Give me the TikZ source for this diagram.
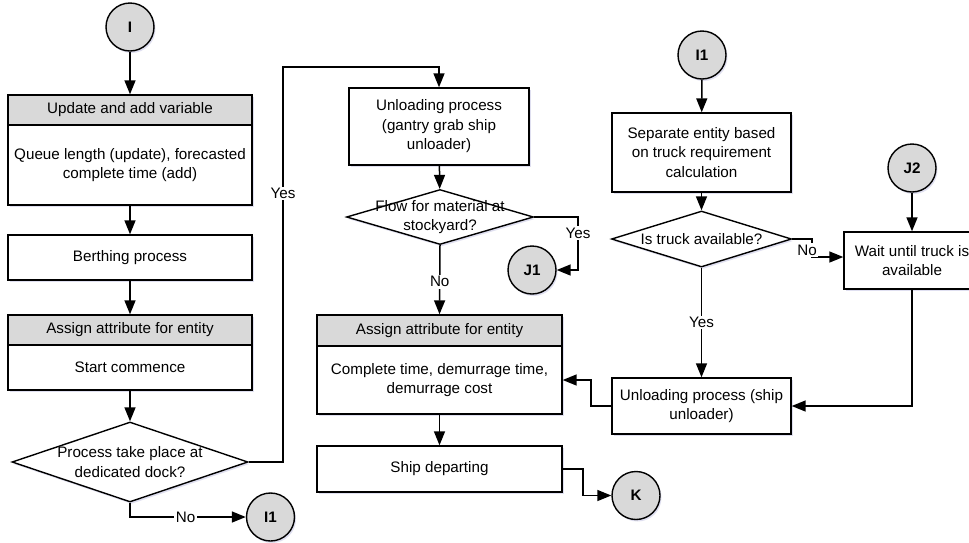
\documentclass[tikz,border=0pt]{standalone}
\usepackage{fontspec}
\setmainfont{Liberation Sans}
\usetikzlibrary{shapes.geometric,arrows.meta,shadows}

\begin{document}
\begin{tikzpicture}[x=1pt,y=-1pt,
  every node/.style={font=\fontsize{15.2}{19.5}\selectfont},
  base/.style={draw, line width=1.4pt, inner sep=0pt,
    drop shadow={shadow xshift=1.5pt, shadow yshift=-2pt, fill=blue!35!gray, opacity=0.18}},
  procbox/.style={base, rectangle, fill=white, align=center},
  headbox/.style={base, rectangle, fill=gray!30, align=center},
  decision/.style={base, diamond, fill=white},
  connector/.style={base, circle, fill=gray!30, minimum size=48pt,
    font=\fontsize{15.2}{19.5}\selectfont\bfseries},
  dtext/.style={align=center, inner sep=0pt},
  arr/.style={line width=1.5pt, -{Triangle[length=14pt,width=11pt]}},
  lbl/.style={fill=white, inner sep=1.5pt}]

\clip (0,0) rectangle (969,542);
\fill[white] (0,0) rectangle (969,542);

% ---------------- left column ----------------
\node[connector] (cI) at (130,27) {I};
\node[headbox, minimum width=244pt, minimum height=30pt] (updH) at (130,110) {Update and add variable};
\node[procbox, minimum width=244pt, minimum height=80pt] (updB) at (130,165)
  {Queue length (update), forecasted\\complete time (add)};
\node[procbox, minimum width=244pt, minimum height=45pt] (berth) at (130,257.5) {Berthing process};
\node[headbox, minimum width=244pt, minimum height=30pt] (asg1H) at (130,330) {Assign attribute for entity};
\node[procbox, minimum width=244pt, minimum height=45pt] (asg1B) at (130,367.5) {Start commence};
\node[decision, minimum width=236pt, minimum height=80pt] (dock) at (130,462) {};
\node[dtext] (dockT) at (130,462) {Process take place at\\dedicated dock?};
\node[connector] (I1a) at (270.5,517) {I1};

% ---------------- middle column ----------------
\node[procbox, minimum width=180pt, minimum height=77pt] (unl1) at (439,126.5)
  {Unloading process\\(gantry grab ship\\unloader)};
\node[decision, minimum width=187pt, minimum height=55pt] (flow) at (440,217) {};
\node[dtext] (flowT) at (440,217) {Flow for material at\\stockyard?};
\node[connector] (J1) at (532,270) {J1};
\node[headbox, minimum width=245pt, minimum height=31pt] (asg2H) at (439.5,330.5) {Assign attribute for entity};
\node[procbox, minimum width=245pt, minimum height=68pt] (asg2B) at (439.5,380)
  {Complete time, demurrage time,\\demurrage cost};
\node[procbox, minimum width=245pt, minimum height=46pt] (ship) at (439.5,469) {Ship departing};
\node[connector] (K) at (636,495.5) {K};

% ---------------- right column ----------------
\node[connector] (I1b) at (702,55) {I1};
\node[procbox, minimum width=179pt, minimum height=79pt] (sep) at (701.5,152.5)
  {Separate entity based\\on truck requirement\\calculation};
\node[decision, minimum width=180pt, minimum height=56pt] (truck) at (701.5,239) {};
\node[dtext] (truckT) at (701.5,239) {Is truck available?};
\node[procbox, minimum width=179pt, minimum height=56pt] (unl2) at (701.5,406)
  {Unloading process (ship\\unloader)};
\node[connector] (J2) at (912,168) {J2};
\node[procbox, minimum width=136pt, minimum height=57pt] (wait) at (912,260.5)
  {Wait until truck is\\available};

% turning points of the routed connectors
\coordinate (yesTurn) at (283,67);
\coordinate (fyTurn) at (578,217);
\coordinate (kTurn) at (583,469);
\coordinate (uTurn) at (591,406);
\coordinate (nTurn) at (812,239);
\coordinate (nEnd) at (812,257);

% ---------------- connectors ----------------
\draw[arr] (cI) -- (updH);
\draw[arr] (updB) -- (berth);
\draw[arr] (berth) -- (asg1H);
\draw[arr] (asg1B) -- (dock);
\draw[arr] (dock.south) |- node[lbl, pos=0.74] {No} (I1a);
\draw[arr] (dock.east) -- (yesTurn |- dock.east)
  -- node[lbl, pos=0.68] {Yes} (yesTurn) -| (unl1.north);

\draw[arr] (unl1) -- (flow);
\draw[arr] (flow.east) -- (fyTurn) -- node[lbl, pos=0.3] {Yes} (fyTurn |- J1) -- (J1);
\draw[arr] (flow.south) -- node[lbl, pos=0.53] {No} (asg2H.north);
\draw[arr] (asg2B) -- (ship);
\draw[arr] (ship.east) -- (kTurn) -- (kTurn |- K) -- (K);

\draw[arr] (I1b) -- (sep);
\draw[arr] (sep) -- (truck);
\draw[arr] (truck.south) -- node[lbl, pos=0.5] {Yes} (unl2.north);
\draw[arr] (truck.east) -- (nTurn) -- (nEnd) -- (nEnd -| wait.west);
\node[lbl] (noT) at (807,250) {No};
\draw[arr] (J2) -- (wait);
\draw[arr] (wait.south) -- (wait.south |- unl2.east) -- (unl2.east);
\draw[arr] (unl2.west) -- (uTurn) -- (uTurn |- asg2B.east) -- (asg2B.east);
\end{tikzpicture}
\end{document}
